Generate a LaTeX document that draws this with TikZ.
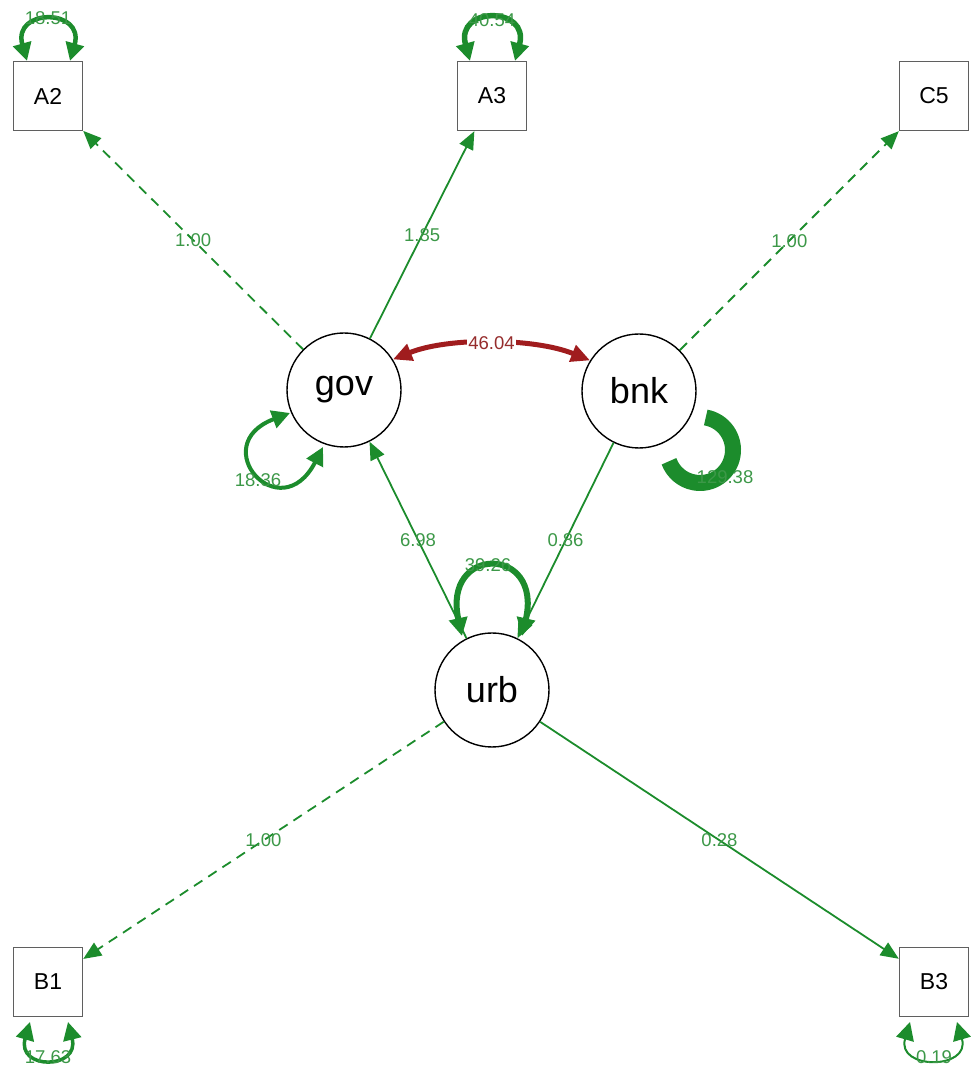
\documentclass[tikz,border=0pt]{standalone}
\usepackage{fontspec}
\setmainfont{Liberation Sans}
\usetikzlibrary{arrows.meta,calc}
\definecolor{gline}{RGB}{28,140,44}
\definecolor{glab}{RGB}{60,152,72}
\definecolor{rline}{RGB}{160,28,30}
\definecolor{rlab}{RGB}{150,45,45}
\definecolor{boxgray}{RGB}{95,95,95}
\begin{document}
\begin{tikzpicture}[x=1pt,y=1pt,
  box/.style={draw=boxgray, line width=1.4pt, minimum size=69pt, inner sep=0pt, font=\fontsize{23}{23}\selectfont},
  lat/.style={circle, draw=black, line width=1.4pt, minimum size=114pt, inner sep=0pt, font=\fontsize{36}{36}\selectfont},
  edge/.style={draw=gline, line width=1.8pt, -{Triangle[length=18pt,width=15pt]}},
  dashededge/.style={edge, dash pattern=on 10pt off 7pt},
  lab/.style={text=glab, font=\fontsize{18.5}{18.5}\selectfont, inner sep=1pt},
  loopg/.style={draw=gline, {Triangle[length=18pt,width=18pt]}-{Triangle[length=18pt,width=18pt]}},
]
\useasboundingbox (0,0) rectangle (970,1065);

% observed variables
\node[box] (A2) at (48,969) {A2};
\node[box] (A3) at (492,969) {A3};
\node[box] (C5) at (934,969) {C5};
\node[box] (B1) at (48,83) {B1};
\node[box] (B3) at (934,83) {B3};

% latent variables
\node[lat] (gov) at (344,675) {gov};
\node[lat] (bnk) at (639,674) {bnk};
\node[lat] (urb) at (492,375) {urb};

% loadings and regressions
\draw[dashededge] (gov) -- node[lab] (l1) {1.00} (A2);
\draw[edge] (gov) -- node[lab] (l2) {1.85} (A3);
\draw[dashededge] (bnk) -- node[lab] (l3) {1.00} (C5);
\draw[edge] (urb) -- node[lab] (l4) {6.98} (gov);
\draw[edge] (bnk) -- node[lab] (l5) {0.86} (urb);
\draw[dashededge] (urb) -- node[lab] (l6) {1.00} (B1);
\draw[edge] (urb) -- node[lab] (l7) {0.28} (B3);

% covariance gov-bnk
\draw[draw=rline, line width=5pt, {Triangle[length=19pt,width=17pt]}-{Triangle[length=19pt,width=17pt]}]
  (gov.32) .. controls +(22:60) and +(158:60) .. node[fill=white, text=rlab, font=\fontsize{18.5}{18.5}\selectfont, inner sep=1pt] (lcov) {46.04} (bnk.148);

% variances
\draw[loopg, line width=4.5pt] ($(A2)+(-21,35)$) .. controls ($(A2)+(-36,88)$) and ($(A2)+(37,88)$) .. ($(A2)+(22,35)$);
\node[lab] (vA2) at ($(A2)+(0,78)$) {18.51};

\draw[loopg, line width=5.5pt] ($(A3)+(-22,35)$) .. controls ($(A3)+(-37,90)$) and ($(A3)+(38,90)$) .. ($(A3)+(23,35)$);
\node[lab] (vA3) at ($(A3)+(0,76)$) {40.54};

\draw[loopg, line width=3.5pt] ($(B1)+(-18,-40)$) .. controls ($(B1)+(-32,-88)$) and ($(B1)+(32,-88)$) .. ($(B1)+(20,-40)$);
\node[lab] (vB1) at ($(B1)+(0,-75)$) {17.63};

\draw[loopg, line width=2pt] ($(B3)+(-24,-40)$) .. controls ($(B3)+(-38,-88)$) and ($(B3)+(37,-88)$) .. ($(B3)+(23,-40)$);
\node[lab] (vB3) at ($(B3)+(0,-75)$) {0.19};

\draw[loopg, line width=4pt] ($(gov)+(-54,-23)$) .. controls ($(gov)+(-139,-55)$) and ($(gov)+(-64,-140)$) .. ($(gov)+(-21,-57)$);
\node[lab] (vgov) at ($(gov)+(-86,-90)$) {18.36};

\draw[loopg, line width=6pt] ($(urb)+(-30,54)$) .. controls ($(urb)+(-50,145)$) and ($(urb)+(51,145)$) .. ($(urb)+(30,54)$);
\node[lab] (vurb) at ($(urb)+(-4,125)$) {39.26};

\draw[draw=gline, line width=16pt] ($(bnk)+(61,-59)+(80:33)$) arc[start angle=80, end angle=-160, radius=33];
\node[lab] (vbnk) at ($(bnk)+(86,-86)$) {129.38};
\end{tikzpicture}
\end{document}
